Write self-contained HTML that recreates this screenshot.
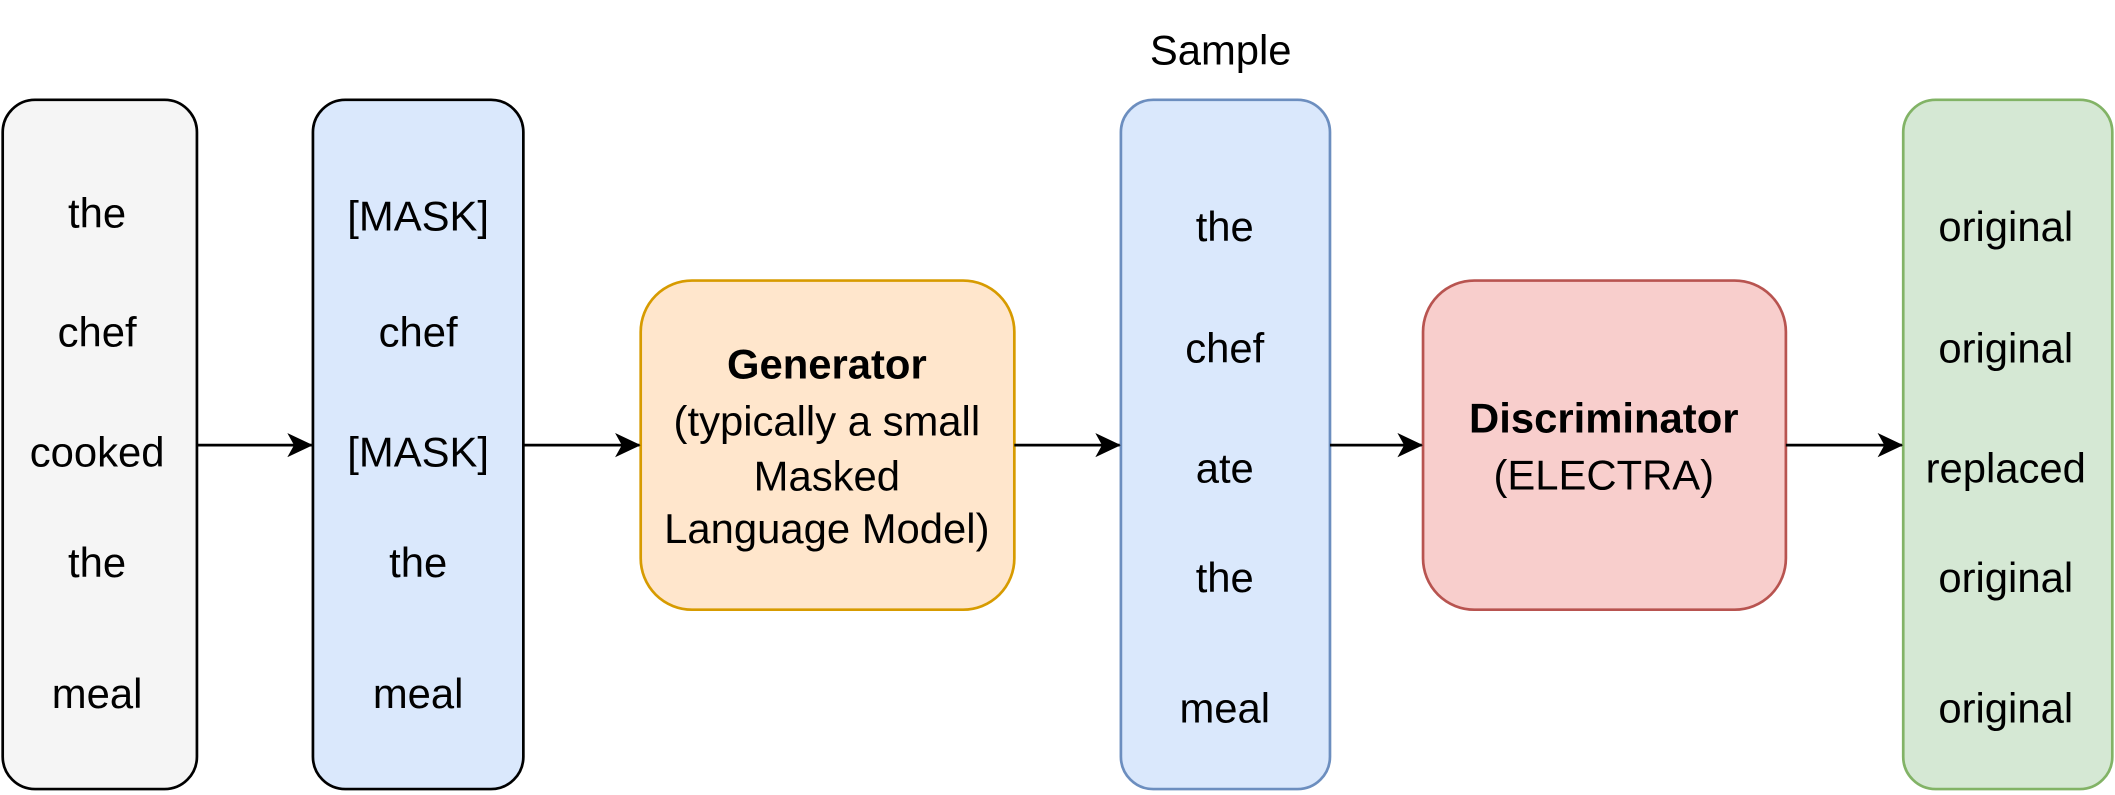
<!DOCTYPE html>
<html><head><meta charset="utf-8"><style>
html,body{margin:0;padding:0;background:#fff;}
svg{display:block;}
text{font-family:"Liberation Sans",Arial,sans-serif;font-size:31px;fill:#000;text-anchor:middle;dominant-baseline:central;}
</style></head><body>
<svg width="2115" height="795" viewBox="0 0 1568 589.4" preserveAspectRatio="none" xmlns="http://www.w3.org/2000/svg">
<defs><marker id="a" markerWidth="20" markerHeight="18" refX="18" refY="9" orient="auto" markerUnits="userSpaceOnUse"><path d="M0,0 L19,9 L0,18 L5,9 Z" fill="#000"/></marker></defs>
<rect x="2" y="74" width="144" height="511" rx="24" fill="#f5f5f5" stroke="#000" stroke-width="2"/>
<rect x="232" y="74" width="156" height="511" rx="24" fill="#dae8fc" stroke="#000" stroke-width="2"/>
<rect x="475" y="208" width="277" height="244" rx="38" fill="#ffe6cc" stroke="#d79b00" stroke-width="2"/>
<rect x="831" y="74" width="155" height="511" rx="24" fill="#dae8fc" stroke="#6c8ebf" stroke-width="2"/>
<rect x="1055" y="208" width="269" height="244" rx="38" fill="#f8cecc" stroke="#b85450" stroke-width="2"/>
<rect x="1411" y="74" width="155" height="511" rx="24" fill="#d5e8d4" stroke="#82b366" stroke-width="2"/>
<g stroke="#000" stroke-width="2">
<line x1="146" y1="330" x2="231" y2="330" marker-end="url(#a)"/>
<line x1="388" y1="330" x2="474" y2="330" marker-end="url(#a)"/>
<line x1="752" y1="330" x2="830" y2="330" marker-end="url(#a)"/>
<line x1="986" y1="330" x2="1054" y2="330" marker-end="url(#a)"/>
<line x1="1324" y1="330" x2="1410" y2="330" marker-end="url(#a)"/>
</g>
<text x="905" y="37">Sample</text>
<text x="72" y="158">the</text><text x="72" y="246">chef</text><text x="72" y="335">cooked</text><text x="72" y="417">the</text><text x="72" y="514">meal</text>
<text x="310" y="160">[MASK]</text><text x="310" y="246">chef</text><text x="310" y="335">[MASK]</text><text x="310" y="417">the</text><text x="310" y="514">meal</text>
<text x="613" y="270" font-weight="bold" font-size="33">Generator</text>
<text x="613" y="312">(typically a small</text>
<text x="613" y="353">Masked</text>
<text x="613" y="392">Language Model)</text>
<text x="908" y="168">the</text><text x="908" y="258">chef</text><text x="908" y="347">ate</text><text x="908" y="428">the</text><text x="908" y="525">meal</text>
<text x="1189" y="310" font-weight="bold" font-size="33">Discriminator</text>
<text x="1189" y="352">(ELECTRA)</text>
<text x="1487" y="168">original</text><text x="1487" y="258">original</text><text x="1487" y="347">replaced</text><text x="1487" y="428">original</text><text x="1487" y="525">original</text>
</svg>
</body></html>
